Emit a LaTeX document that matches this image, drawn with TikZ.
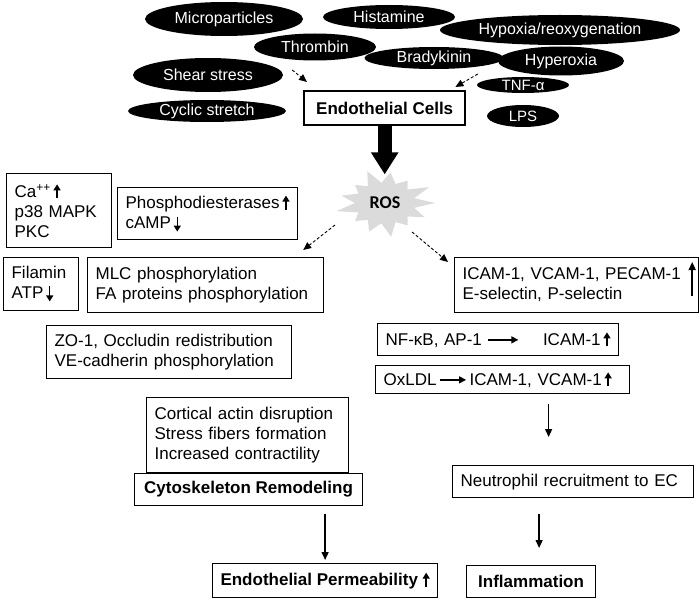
\documentclass[tikz,border=0pt]{standalone}
\usepackage{fontspec}
\setmainfont{Liberation Sans}
\newfontfamily\rosfont{Carlito}
\usetikzlibrary{shapes.geometric,arrows.meta}

\newcommand{\bodyfont}{\fontsize{17}{20}\selectfont}
\newcommand{\headfont}{\fontsize{17}{20}\selectfont\bfseries}
% small arrows inside the texts
\newcommand{\uparr}{\tikz[baseline=0pt]\draw[line width=1.4pt,-{Triangle[length=6pt,width=7pt]}] (0pt,-1pt) -- (0pt,13pt);}
\newcommand{\dnarr}{\tikz[baseline=0pt]\draw[line width=1.4pt,-{Triangle[length=6pt,width=7pt]}] (0pt,12pt) -- (0pt,-3pt);}
\newcommand{\longarr}[1]{\tikz[baseline=0pt]\draw[line width=1.4pt,-{Triangle[length=7pt,width=7pt]}] (0pt,5.5pt) -- (#1,5.5pt);}

\begin{document}
\begin{tikzpicture}[x=1pt,y=-1pt,
	stim/.style={ellipse,fill=black,text=white,inner sep=0pt,font=\fontsize{16}{18}\selectfont},
	tbox/.style={draw,line width=1.2pt,anchor=north west,inner xsep=8pt,inner ysep=2pt,align=left,font=\bodyfont},
	hbox/.style={draw,line width=1.2pt,anchor=north west,inner sep=0pt,font=\headfont},
	dashar/.style={densely dashed,line width=0.9pt,-{Triangle[length=8pt,width=7pt]}},
	arr/.style={line width=1.3pt,-{Triangle[length=8pt,width=7pt]}},
	bigarr/.style={line width=14pt,-{Triangle[length=22pt,width=26pt]}}]
\useasboundingbox (0,0) rectangle (700,599);

% stimuli
\node[stim,minimum width=158pt,minimum height=34pt] (micro) at (224,19) {Microparticles};
\node[stim,minimum width=132pt,minimum height=24pt] (hist) at (389,17) {Histamine};
\node[stim,minimum width=240pt,minimum height=30pt] (hypox) at (560,30) {Hypoxia/reoxygenation};
\node[stim,minimum width=122pt,minimum height=27pt] (thromb) at (315,47) {Thrombin};
\node[stim,minimum width=139pt,minimum height=22pt] (brady) at (434,58) {Bradykinin};
\node[stim,minimum width=126pt,minimum height=29pt] (hyperox) at (561,61) {Hyperoxia};
\node[stim,minimum width=150pt,minimum height=34pt] (shear) at (208,75) {Shear stress};
\node[stim,minimum width=158pt,minimum height=22pt] (cyclic) at (207,111) {Cyclic stretch};
\node[stim,minimum width=92pt,minimum height=16pt,font=\fontsize{15}{16}\selectfont] (tnf) at (523,85) {TNF-α};
\node[stim,minimum width=72pt,minimum height=22pt,font=\fontsize{15}{16}\selectfont] (lps) at (523,116) {LPS};

\node[hbox,line width=2.4pt,minimum width=161pt,minimum height=34pt] (ec) at (303,90)
	{Endothelial Cells};

% ROS burst
\coordinate (rosc) at (385,203);
\fill[gray!28,shift={(rosc)}]
	\foreach \k [evaluate=\k as \r using {mod(\k,2)==0 ? 1-0.05*mod(\k,6) : 0.6}] in {0,...,25}
	{ \ifnum\k=0 (0:50 and 34) \else -- (\k*360/26:{50*\r} and {34*\r}) \fi } -- cycle;
\node[font=\rosfont\fontsize{18}{20}\selectfont\bfseries] (ros) at (rosc) {ROS};

% left side
\node[tbox,text width=89pt,minimum height=74pt] (ca) at (6,173)
	{Ca\textsuperscript{++}\,\uparr\\p38 MAPK\\PKC};
\node[tbox,text width=164pt,minimum height=52pt] (pde) at (117,187)
	{Phosphodiesterases\,\uparr\\cAMP\,\dnarr};
\node[tbox,text width=59pt,minimum height=53pt] (fil) at (3,257)
	{Filamin\\ATP\,\dnarr};
\node[tbox,text width=220pt,minimum height=55pt] (mlc) at (87,257)
	{MLC phosphorylation\\FA proteins phosphorylation};
\node[tbox,text width=229pt,minimum height=53pt] (zo) at (46,325)
	{ZO-1, Occludin redistribution\\VE-cadherin phosphorylation};
\node[tbox,text width=186pt,minimum height=75pt] (cort) at (146,397)
	{Cortical actin disruption\\Stress fibers formation\\Increased contractility};
\node[hbox,minimum width=228pt,minimum height=32pt] (cyto) at (134,473)
	{Cytoskeleton Remodeling};
\node[hbox,minimum width=225pt,minimum height=34pt] (perm) at (212,563)
	{Endothelial Permeability\ \uparr};

% right side
\node[tbox,text width=228pt,minimum height=55pt] (icam) at (454,257)
	{ICAM-1, VCAM-1, PECAM-1\\E-selectin, P-selectin};
\node[tbox,text width=225pt,minimum height=32pt] (nf) at (377,323)
	{NF-κB, AP-1 \longarr{30pt}\hspace{24pt}ICAM-1\,\uparr};
\node[tbox,text width=238pt,minimum height=28pt] (ox) at (375,365)
	{OxLDL\,\longarr{26pt}\,ICAM-1, VCAM-1\,\uparr};
\node[tbox,text width=225pt,minimum height=32pt] (neu) at (452,465)
	{Neutrophil recruitment to EC};
\node[hbox,minimum width=129pt,minimum height=32pt] (infl) at (466,565)
	{Inflammation};

% connectors
\draw[dashar] ([shift={(9,-5)}]shear.east) -- ([shift={(4,-8)}]ec.north west);
\draw[dashar] ([shift={(1,-11)}]tnf.west) -- ([shift={(-11,-3)}]ec.north east);
\draw[bigarr] (ec.south) -- ++(0,48);
\draw[dashar] ([shift={(-50,22)}]ros.center) -- ([shift={(-21,-7)}]mlc.north east);
\draw[dashar] ([shift={(27,29)}]ros.center) -- ([shift={(-6,5)}]icam.north west);
\draw[arr,line width=1.5pt] ([shift={(-7,-17)}]icam.south east) -- ([shift={(-7,5)}]icam.north east);
\draw[arr,shorten <=8pt,shorten >=3pt] (cyto.south -| perm.north) -- (perm.north);
\draw[arr,shorten <=10pt,shorten >=28pt] ([xshift=46pt]ox.south) -- ([xshift=46pt]ox.south |- neu.north);
\draw[arr,shorten <=16pt,shorten >=17pt] ([xshift=8pt]infl.north |- neu.south) -- ([xshift=8pt]infl.north);
\end{tikzpicture}
\end{document}
